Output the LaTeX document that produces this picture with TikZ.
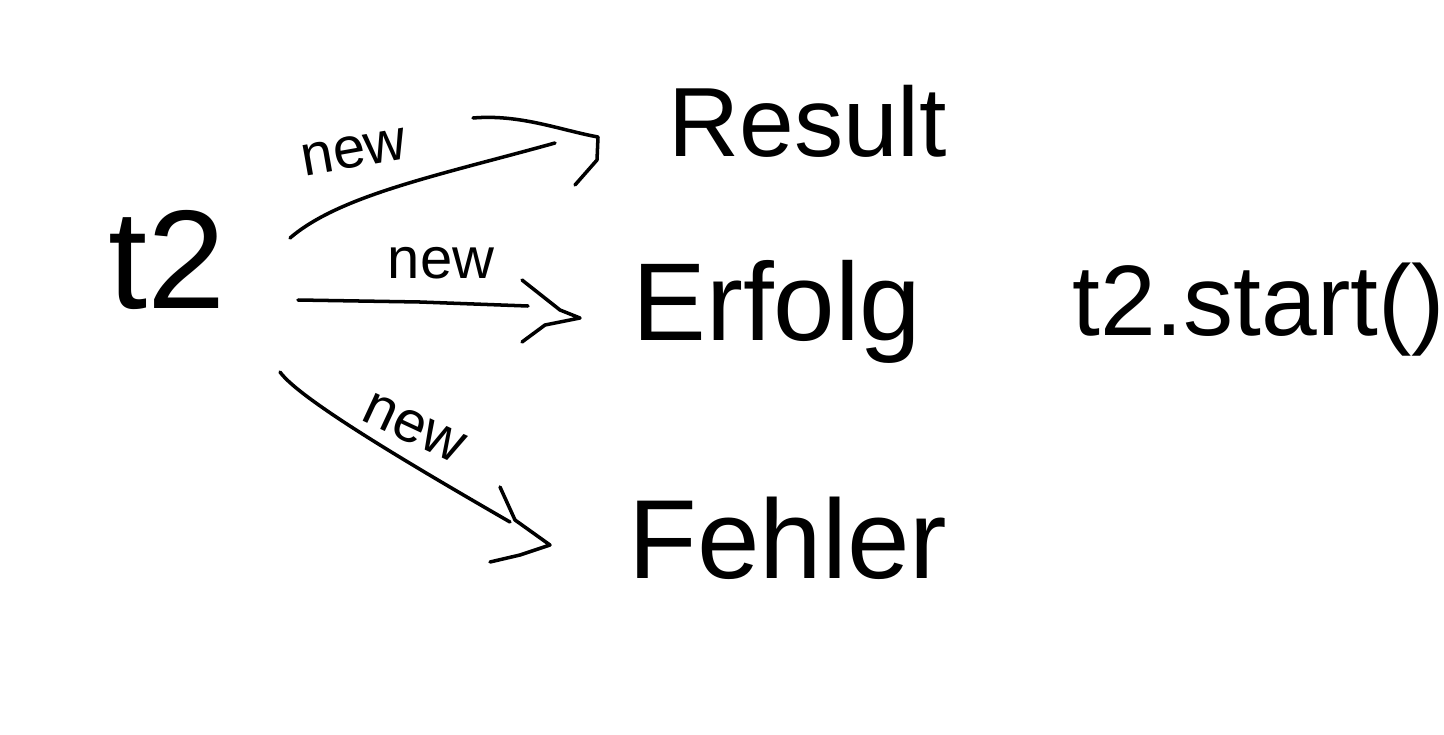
\documentclass[tikz,border=0pt]{standalone}
\usepackage{fontspec}
\setmainfont{Liberation Sans}
\begin{document}
\begin{tikzpicture}[x=0.02cm,y=-0.02cm,
  pen/.style={line width=2pt,line cap=round,line join=round},
  word/.style={inner sep=0pt,anchor=base west},
  lbl/.style={inner sep=0pt,font=\fontsize{33}{38}\selectfont}]
\useasboundingbox[fill=white] (0,0) rectangle (1444,734);

% objects
\node[word,font=\fontsize{80}{90}\selectfont] (t2) at (108,308) {t2};
\node[word,font=\fontsize{56}{64}\selectfont] (result) at (668,156) {Result};
\node[word,font=\fontsize{63}{70}\selectfont] (erfolg) at (632,340) {Erfolg};
\node[word,font=\fontsize{64}{72}\selectfont] (fehler) at (628,578) {Fehler};
\node[word,font=\fontsize{57}{64}\selectfont] (start) at (1072,335) {t2.start()};

% arrow end points
\coordinate (up0) at (290,238);
\coordinate (up1) at (555,143);
\coordinate (mid0) at (298,300);
\coordinate (mid1) at (575,316);
\coordinate (lo0) at (280,372);
\coordinate (lo1) at (510,522);

% connectors
\draw[pen] (up0) .. controls (340,195) and (440,175) .. (up1);
\draw[pen] (473,118) .. controls (520,114) and (560,130) .. (598,137) -- (597,160) -- (575,185);

\draw[pen] (mid0) -- (420,302) -- (528,306);
\draw[pen] (522,280) -- (560,310) -- (mid1) -- (580,318) -- (545,325) -- (522,342);

\draw[pen] (lo0) .. controls (300,400) and (420,470) .. (lo1);
\draw[pen] (500,487) -- (515,520) -- (550,545) -- (520,555) -- (490,562);

% labels
\node[lbl,rotate=10] (n1) at (354,152) {new};
\node[lbl] (n2) at (441,263) {new};
\node[lbl,rotate=-25] (n3) at (414,428) {new};
\end{tikzpicture}
\end{document}
